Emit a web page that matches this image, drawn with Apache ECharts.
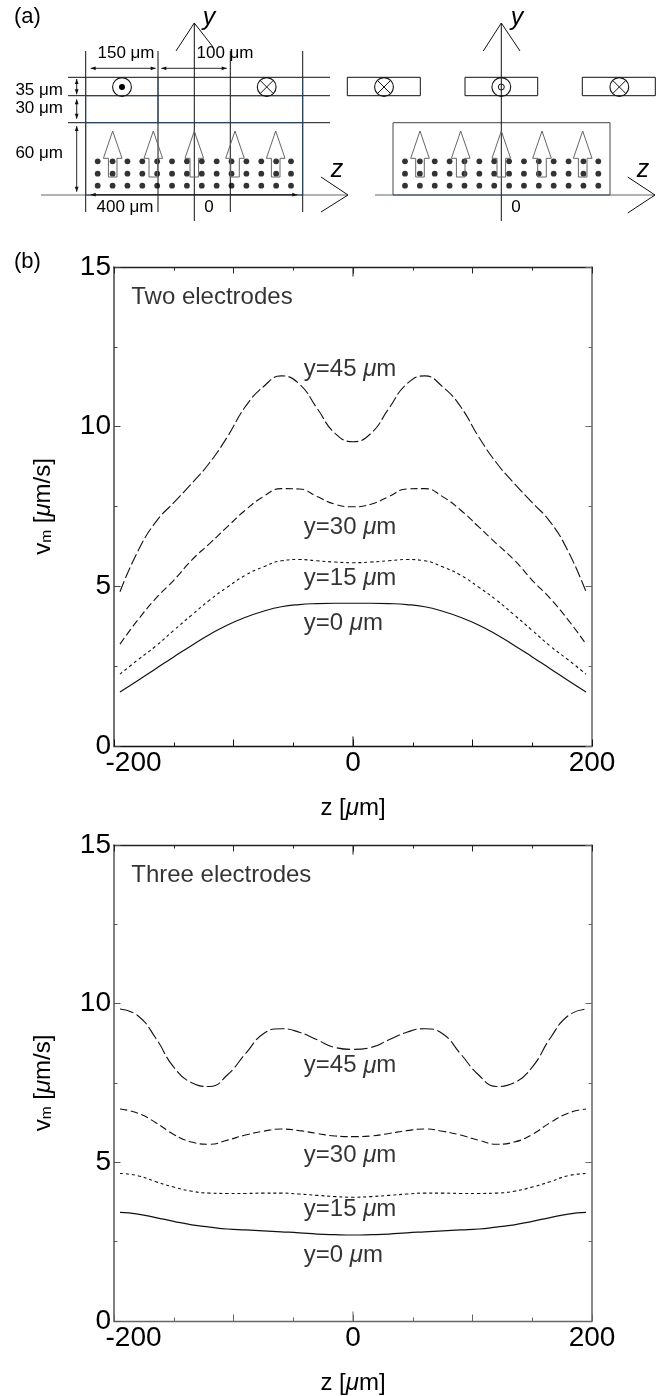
<!DOCTYPE html>
<html><head><meta charset="utf-8">
<style>html,body{margin:0;padding:0;background:#fff}#c{width:665px;height:1396px}</style>
<script src="https://cdn.jsdelivr.net/npm/echarts@6/dist/echarts.min.js"></script>
</head><body><div id="c"></div>
<script>
// ---------- plot data ----------
const zValues=[-195,-180,-165,-150,-135,-120,-105,-90,-75,-60,-45,-30,-15,0,15,30,45,60,75,90,105,120,135,150,165,180,195];
const twoY45=[4.83,6.1,7.02,7.62,8.22,8.87,9.69,10.63,11.25,11.59,11.34,10.57,9.79,9.53,9.79,10.57,11.34,11.59,11.25,10.63,9.69,8.87,8.22,7.62,7.02,6.1,4.83];
const twoY30=[3.19,3.95,4.62,5.19,5.82,6.34,6.87,7.39,7.81,8.06,8.05,7.81,7.57,7.49,7.57,7.81,8.05,8.06,7.81,7.39,6.87,6.34,5.82,5.19,4.62,3.95,3.19];
const twoY15=[2.25,2.7,3.13,3.62,4.1,4.57,4.98,5.35,5.61,5.8,5.84,5.8,5.76,5.74,5.76,5.8,5.84,5.8,5.61,5.35,4.98,4.57,4.1,3.62,3.13,2.7,2.25];
const twoY0=[1.69,2.05,2.42,2.79,3.15,3.49,3.79,4.03,4.22,4.36,4.43,4.46,4.47,4.47,4.47,4.46,4.43,4.36,4.22,4.03,3.79,3.49,3.15,2.79,2.42,2.05,1.69];
const threeY45=[9.83,9.62,8.91,8.0,7.51,7.39,7.76,8.42,9.05,9.21,9.1,8.86,8.62,8.56,8.62,8.86,9.1,9.21,9.05,8.42,7.76,7.39,7.51,8.0,8.91,9.62,9.83];
const threeY30=[6.68,6.55,6.25,5.88,5.64,5.57,5.7,5.86,5.98,6.05,6.0,5.91,5.83,5.81,5.83,5.91,6.0,6.05,5.98,5.86,5.7,5.57,5.64,5.88,6.25,6.55,6.68];
const threeY15=[4.65,4.58,4.39,4.22,4.09,4.03,4.02,4.02,4.03,4.03,4.0,3.96,3.92,3.9,3.92,3.96,4.0,4.03,4.03,4.02,4.02,4.03,4.09,4.22,4.39,4.58,4.65];
const threeY0=[3.42,3.37,3.26,3.14,3.03,2.96,2.9,2.87,2.84,2.81,2.78,2.74,2.72,2.71,2.72,2.74,2.78,2.81,2.84,2.87,2.9,2.96,3.03,3.14,3.26,3.37,3.42];
const lineLabelNames=['y=45 ','y=30 ','y=15 ','y=0 '];
const twoLabelY=[11.78,6.86,5.26,3.83];
const threeLabelY=[8.04,5.22,3.51,2.08];
const xTickLabels=[-200,0,200];

// ---------- schematic (a), in drawing units ----------
const darkSegs=[[85.7,51,85.7,212],[158,51,158,212],[230.3,51,230.3,212],[302.7,51,302.7,212],
 [68,77.3,330,77.3],[68,95.7,330,95.7],[68,122.7,330,122.7],
 [194.3,23,194.3,221],[176,51,194.3,23],[194.3,23,213,47],
 [501.3,23,501.3,221],[483.3,51,501.3,23],[501.3,23,520,51],
 [321,177,348,195],[348,195,321,212],[627.7,177,655,195],[655,195,627.7,213],
 [347.3,77.3,420.3,77.3],[347.3,95.7,420.3,95.7],[347.3,77.3,347.3,95.7],[420.3,77.3,420.3,95.7],
 [465,77.3,537.7,77.3],[465,95.7,537.7,95.7],[465,77.3,465,95.7],[537.7,77.3,537.7,95.7],
 [582.3,77.3,655.3,77.3],[582.3,95.7,655.3,95.7],[582.3,77.3,582.3,95.7],[655.3,77.3,655.3,95.7]];
const graySegs=[[41,195,348,195],[375,195,655,195],[393,122.7,610,122.7],[393,122.7,393,195],[610,122.7,610,195]];
const navySegs=[[85.7,77.3,85.7,195],[158,77.3,158,122.7],[302.7,77.3,302.7,195],[85.7,122.7,302.7,122.7],[85.7,95.7,158,95.7],[230.3,95.7,302.7,95.7],[85.7,195,302.7,195],[393,195,610,195]];
const dimArrows=[[90.7,68.3,155.7,68.3],[161.3,68.3,226.7,68.3],[76.7,79,76.7,94.3],[76.7,99.3,76.7,118.7],[76.7,126,76.7,191.7],[90.7,194.7,297.3,194.7]];
const blockArrowX=[112.7,153.3,194.3,235,275.7,420,460.7,501.3,542,582.7];
const blockOutlineDX=[0,9.3,4.3,4.3,-4.3,-4.3,-9.3];
const blockOutlineY=[131,158.3,158.3,177,177,158.3,158.3];
const dotColumnsDX=[0,14.87,29.74,44.61,59.48,74.35,89.22,104.09,118.96,133.83,148.7,163.57,178.44,193.31];
const dotColumnStarts=[97.7,405];
const dotRowsY=[161.3,173.7,185.7];
const coils=[[122,87,1],[266.7,87,0],[384,87,0],[501.3,87,2],[619.3,87,0]];
const schemLabels=[
 {t:'(a)',x:14,y:17,a:'left',s:22},{t:'(b)',x:14,y:262,a:'left',s:22},
 {t:'y',x:209,y:18,a:'center',s:25,i:1},{t:'y',x:517,y:18,a:'center',s:25,i:1},
 {t:'z',x:337,y:170,a:'center',s:25,i:1},{t:'z',x:643,y:170,a:'center',s:25,i:1},
 {t:'150 μm',x:126,y:53,a:'center',s:17},{t:'100 μm',x:225,y:53,a:'center',s:17},
 {t:'35 μm',x:63,y:90,a:'right',s:17},{t:'30 μm',x:63,y:108,a:'right',s:17},{t:'60 μm',x:63,y:153,a:'right',s:17},
 {t:'400 μm',x:125,y:207,a:'center',s:17},{t:'0',x:209,y:207,a:'center',s:17},{t:'0',x:516,y:207,a:'center',s:17}];

const FONT='"Liberation Sans", Arial, sans-serif';
const INK='#000';

function segSeries(segs,color,w){return {type:'custom',xAxisIndex:0,yAxisIndex:0,silent:true,clip:false,z:2,
 data:segs,encode:{x:[0,2],y:[1,3]},
 renderItem:(p,api)=>{const a=api.coord([api.value(0),api.value(1)]),b=api.coord([api.value(2),api.value(3)]);
  return {type:'line',shape:{x1:a[0],y1:a[1],x2:b[0],y2:b[1]},style:{stroke:color,lineWidth:w,fill:null}};}};}

const dots=[];dotColumnStarts.forEach(s=>dotColumnsDX.forEach(d=>dotRowsY.forEach(y=>dots.push([s+d,y]))));

const schematic=[
 segSeries(graySegs,'#666',1.2),
 segSeries(darkSegs,'#111',1),
 segSeries(navySegs,'#2a4463',1),
 {type:'scatter',xAxisIndex:0,yAxisIndex:0,silent:true,symbol:'circle',symbolSize:5.8,itemStyle:{color:'#000'},data:dots,z:3},
 {type:'custom',xAxisIndex:0,yAxisIndex:0,silent:true,clip:false,z:4,data:dimArrows,encode:{x:[0,2],y:[1,3]},
  renderItem:(p,api)=>{const a=api.coord([api.value(0),api.value(1)]),b=api.coord([api.value(2),api.value(3)]);
   const d=Math.hypot(b[0]-a[0],b[1]-a[1]),ux=(b[0]-a[0])/d,uy=(b[1]-a[1])/d,L=5,H=1.9;
   const tri=(t,s)=>({type:'polygon',shape:{points:[t,[t[0]+s*(ux*L)-uy*H,t[1]+s*(uy*L)+ux*H],[t[0]+s*(ux*L)+uy*H,t[1]+s*(uy*L)-ux*H]]},style:{fill:'#111'}});
   return {type:'group',children:[{type:'line',shape:{x1:a[0],y1:a[1],x2:b[0],y2:b[1]},style:{stroke:'#111',lineWidth:0.9}},tri(a,1),tri(b,-1)]};}},
 {type:'custom',xAxisIndex:0,yAxisIndex:0,silent:true,clip:false,z:4,data:blockArrowX.map(x=>[x,150]),encode:{x:0,y:1},
  renderItem:(p,api)=>{const cx=api.value(0);
   const pts=blockOutlineDX.map((d,i)=>api.coord([cx+d,blockOutlineY[i]]));
   return {type:'polygon',shape:{points:pts},style:{fill:'none',stroke:'#666',lineWidth:1}};}},
 {type:'custom',xAxisIndex:0,yAxisIndex:0,silent:true,clip:false,z:5,data:coils,encode:{x:0,y:1},
  renderItem:(p,api)=>{const c=api.coord([api.value(0),api.value(1)]),k=api.value(2),R=9.4,q=R*0.707;
   const ch=[{type:'circle',shape:{cx:c[0],cy:c[1],r:R},style:{fill:'none',stroke:'#111',lineWidth:1.1}}];
   if(k===0){ch.push({type:'line',shape:{x1:c[0]-q,y1:c[1]-q,x2:c[0]+q,y2:c[1]+q},style:{stroke:'#111',lineWidth:1}});
    ch.push({type:'line',shape:{x1:c[0]-q,y1:c[1]+q,x2:c[0]+q,y2:c[1]-q},style:{stroke:'#111',lineWidth:1}});}
   if(k===1)ch.push({type:'circle',shape:{cx:c[0],cy:c[1],r:3},style:{fill:'#000'}});
   if(k===2)ch.push({type:'circle',shape:{cx:c[0],cy:c[1],r:3},style:{fill:'none',stroke:'#111',lineWidth:1}});
   return {type:'group',children:ch};}},
 {type:'custom',xAxisIndex:0,yAxisIndex:0,silent:true,clip:false,z:6,data:schemLabels.map(l=>[l.x,l.y]),encode:{x:0,y:1},
  renderItem:(p,api)=>{const l=schemLabels[p.dataIndex],c=api.coord([l.x,l.y]);
   return {type:'text',x:c[0],y:c[1],style:{text:l.t,fill:'#000',align:l.a,verticalAlign:'middle',
    font:(l.i?'italic ':'')+l.s+'px '+FONT}};}}
];

// ---------- plots ----------
const rich={a:{fontFamily:FONT,fontSize:24,color:INK},i:{fontFamily:FONT,fontSize:24,fontStyle:'italic',color:INK},
 sub:{fontFamily:FONT,fontSize:15.5,color:INK,verticalAlign:'bottom',padding:[6,0,0,0]}};

function curve(vals,dash,xi,yi,w){return {type:'line',xAxisIndex:xi,yAxisIndex:yi,data:zValues.map((z,i)=>[z,vals[i]]),
 smooth:0.5,showSymbol:false,symbol:'none',silent:true,z:3,lineStyle:{color:'#111',width:w||1.1,type:dash}};}
function centerTick(xi,yi,col){return {type:'line',xAxisIndex:xi,yAxisIndex:yi,symbol:'none',silent:true,lineStyle:{color:col,width:1},
 data:[[0,0],[0,0.3]]};}
function centerTickTop(xi,yi,col){return {type:'line',xAxisIndex:xi,yAxisIndex:yi,symbol:'none',silent:true,lineStyle:{color:col,width:1},
 data:[[0,15],[0,14.7]]};}
function lineLabels(names,ys,title,tx,xi,yi){
 const d=names.map((n,i)=>({value:[-41.6,ys[i]],label:{formatter:'{a|'+n+'}{i|μ}{a|m}'}}));
 d.push({value:[tx,14.04],label:{formatter:'{a|'+title+'}'}});
 return {type:'scatter',xAxisIndex:xi,yAxisIndex:yi,symbolSize:1,itemStyle:{color:'rgba(0,0,0,0)'},silent:true,z:5,
  label:{show:true,position:'right',distance:0,color:INK,rich},data:d};}

function xAxes(grid,colB,colT){return [
 {type:'value',gridIndex:grid,position:'bottom',min:-200,max:200,interval:100,
  axisLine:{onZero:false,lineStyle:{color:colB,width:1.3}},
  axisTick:{inside:true,length:6.5,lineStyle:{color:colB}},minorTick:{show:true,splitNumber:2,length:3.5,lineStyle:{color:colB}},
  splitLine:{show:false},minorSplitLine:{show:false},
  axisLabel:{margin:3,fontFamily:FONT,fontSize:28,color:INK,
   formatter:v=>v===xTickLabels[0]?'{m|'+v+'}':(xTickLabels.includes(v)?String(v):''),
   rich:{m:{fontFamily:FONT,fontSize:28,color:INK,padding:[0,0,0,39]}}},
  name:'{a|z [}{i|μ}{a|m]}',nameLocation:'middle',nameGap:62,nameTextStyle:{rich,verticalAlign:'middle'}},
 {type:'value',gridIndex:grid,position:'top',min:-200,max:200,interval:100,
  axisLine:{onZero:false,lineStyle:{color:colT,width:1.3}},
  axisTick:{inside:true,length:6.5,lineStyle:{color:colT}},minorTick:{show:true,splitNumber:2,length:3.5,lineStyle:{color:colT}},
  splitLine:{show:false},minorSplitLine:{show:false},axisLabel:{show:false}}];}
function yAxes(grid,col){return [
 {type:'value',gridIndex:grid,position:'left',min:0,max:15,interval:5,
  axisLine:{onZero:false,lineStyle:{color:col,width:1.5}},
  axisTick:{inside:true,length:6.5,lineStyle:{color:col}},minorTick:{show:true,splitNumber:2,length:3.5,lineStyle:{color:col}},
  splitLine:{show:false},minorSplitLine:{show:false},
  axisLabel:{margin:3,fontFamily:FONT,fontSize:28,color:INK},
  name:'{a|v}{sub|m}{a| [}{i|μ}{a|m/s]}',nameLocation:'middle',nameGap:71,nameRotate:90,nameTextStyle:{rich,verticalAlign:'middle'}},
 {type:'value',gridIndex:grid,position:'right',min:0,max:15,interval:5,
  axisLine:{onZero:false,lineStyle:{color:'#666',width:1.5}},
  axisTick:{inside:true,length:6.5,lineStyle:{color:'#666'}},minorTick:{show:true,splitNumber:2,length:3.5,lineStyle:{color:'#666'}},
  splitLine:{show:false},minorSplitLine:{show:false},axisLabel:{show:false}}];}

const option={animation:false,backgroundColor:'#fff',
 grid:[{left:0,top:0,width:665,height:240,show:false},
  {left:114,top:267,width:478,height:479},
  {left:114,top:845,width:478,height:479}],
 xAxis:[{type:'value',gridIndex:0,min:0,max:665,show:false},...xAxes(1,'#111','#222'),...xAxes(2,'#666','#222')],
 yAxis:[{type:'value',gridIndex:0,min:0,max:240,inverse:true,show:false},...yAxes(1,'#444'),...yAxes(2,'#555')],
 series:[...schematic,
  curve(twoY45,[11.5,3.3],1,1),curve(twoY30,[7.5,3.5],1,1),curve(twoY15,[3,3],1,1),curve(twoY0,'solid',1,1,1.2),
  centerTick(1,1,'#111'),centerTickTop(1,1,'#222'),
  lineLabels(lineLabelNames,twoLabelY,'Two electrodes',-186,1,1),
  curve(threeY45,[14,3.5],3,3),curve(threeY30,[7.5,3.5],3,3),curve(threeY15,[3,3],3,3),curve(threeY0,'solid',3,3,1.2),
  centerTick(3,3,'#666'),centerTickTop(3,3,'#222'),
  lineLabels(lineLabelNames,threeLabelY,'Three electrodes',-186,3,3)]};
echarts.init(document.getElementById('c'),null,{renderer:'canvas'}).setOption(option);
</script></body></html>
